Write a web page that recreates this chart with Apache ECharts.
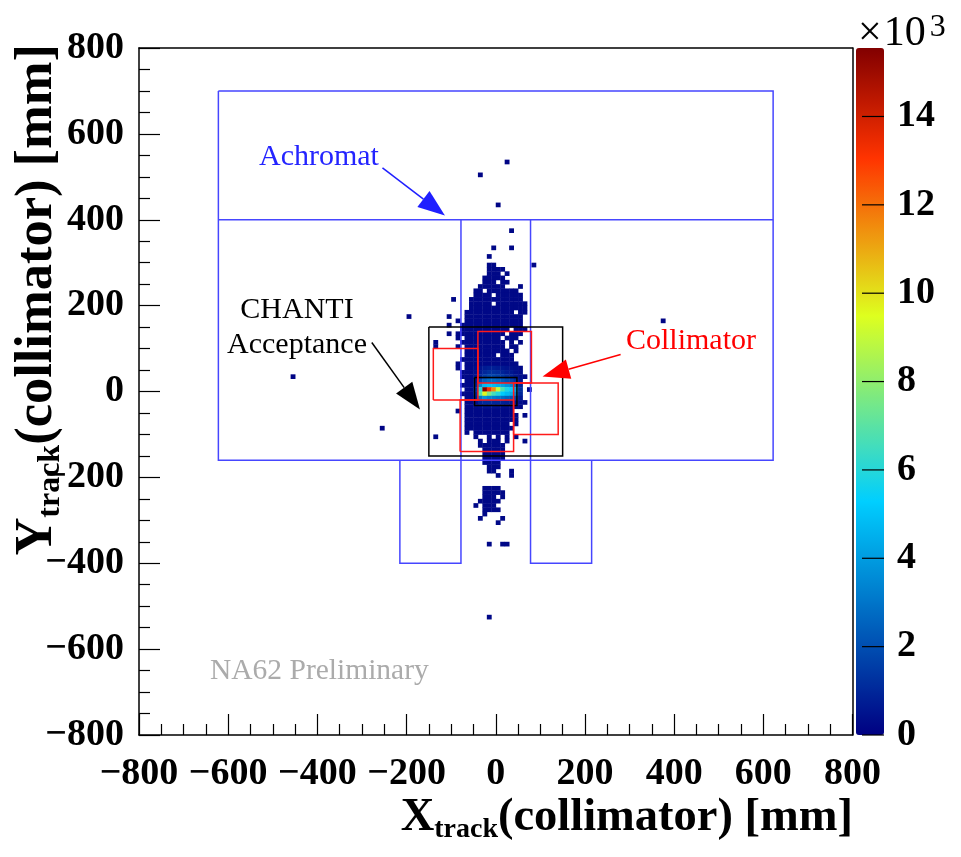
<!DOCTYPE html>
<html><head><meta charset="utf-8">
<script src="https://cdn.jsdelivr.net/npm/echarts@6/dist/echarts.min.js"></script>
<style>html,body{margin:0;padding:0;background:#fff}#c{width:961px;height:857px}</style>
</head><body><div id="c"></div>
<script>
// ---------------- data ----------------
const BIN = 10;                 // mm per histogram bin
const blobX0 = -150;            // x (lower edge) of first column of the map below
const blobCount = 200;          // typical count of a dark-blue cell
// '#' = filled bin, '.' = empty bin ; columns x = -150, -140, ..., 80
const blobRows = [
 [370, "..................#....."],
 [330, "..............#...#....."],
 [310, ".............#.........."],
 [290, ".............##........#"],
 [280, ".............####......."],
 [270, ".............###.#......"],
 [260, "............#####......."],
 [250, "............###.##......"],
 [240, "...........######...#..."],
 [230, "..........##.#######...."],
 [220, "..........####.######..."],
 [210, ".....#...############..."],
 [200, ".........#####.#######.."],
 [190, ".........#############.."],
 [180, "........###########.##.."],
 [170, "....#...#############..."],
 [160, "......#.#############..."],
 [150, "....#..##############..."],
 [140, ".......###########.###.."],
 [130, "....#.###########.###..."],
 [120, "......#.########.###...."],
 [110, ".#.....##########.#.#..."],
 [100, ".#....#.#########.##...."],
 [90,  "........##########.#...."],
 [80,  "........#######.###....."],
 [70,  ".......############....."],
 [60,  "......#.############...."],
 [50,  "......#.#############..."],
 [40,  ".......##############..."],
 [30,  ".......###############.."],
 [20,  "........#############..."],
 [10,  ".......##############..."],
 [0,   "........#############.#."],
 [-10, ".......##############..."],
 [-20, "........#############..."],
 [-30, "........############.#.."],
 [-40, "........###########.#..."],
 [-50, "......#.###########....."],
 [-60, "........############.#.."],
 [-70, "........############...."],
 [-80, "........##########.#...."],
 [-90, "........###########....."],
 [-100,"........#.########......"],
 [-110,".#........#..#.#.#.#...."],
 [-120,"...........#.###.#...#.."],
 [-130,"...........######......."],
 [-140,"............#####......."],
 [-150,"............#####......."],
 [-160,"............#####......."],
 [-170,"............####........"],
 [-180,".............###........"],
 [-190,".............##...#....."],
 [-200,"...............#..#....."],
 [-230,"............####........"],
 [-240,"............#####......."],
 [-250,"............###.#......."],
 [-260,"...........#####........"],
 [-270,"..........#.###........."],
 [-280,"............####........"],
 [-290,"............#..........."],
 [-300,"...........#....#......."],
 [-310,"...............#........"],
 [-360,".............#..##......"],
 [-530,".............#.........."]
];
// isolated bins far from the beam  [x, y, count]
const outliers = [[20,530,100],[-40,500,100],[0,430,100],[-200,170,100],[-460,30,100],[-260,-90,100],[370,160,100]];
// beam core (counts)
const hotX = [-50,-40,-30,-20,-10,0,10,20,30,40,50];
const hotY = [50,40,30,20,10,0,-10,-20,-30,-40];
const hotValues = [
 [300, 500, 700, 800, 800, 700, 600, 500, 400, 300, 200],
 [400, 700,1000,1200,1200,1100, 900, 700, 600, 400, 300],
 [500,1000,1500,1800,1800,1600,1400,1100, 900, 600, 400],
 [600,1800,2500,2800,2800,2600,2300,2000,1700,1200, 500],
 [900,3400,4800,5000,4800,4500,4200,3800,3400,2600, 900],
 [1200,6000,15550,13200,11500,9000,6800,5800,5200,4200,1200],
 [1000,7000,9600,7600,6600,6000,5200,4800,4400,3400,1000],
 [700,3000,3800,3400,3200,3000,2800,2500,2200,1700, 600],
 [400, 900,1100,1100,1000,1000, 900, 800, 700, 500, 300],
 [300, 400, 500, 500, 500, 450, 400, 350, 300, 250, 200]
];
const zMax = 15550;
const zTicks = [0,2000,4000,6000,8000,10000,12000,14000];

// detector outlines (mm)
const achromatOuter = [[-622,700],[622,700],[622,-160],[-622,-160],[-622,700]];
const achromatMid   = [[-622,400],[622,400]];
const achromatLeft  = [[-78,400],[-78,-400],[-215,-400],[-215,-160]];
const achromatRight = [[78,400],[78,-400],[215,-400],[215,-160]];
const chantiOuter = [[-150,150],[150,150],[150,-150],[-150,-150],[-150,150]];
const chantiHole  = [[-47.5,32.5],[47.5,32.5],[47.5,-32.5],[-47.5,-32.5],[-47.5,32.5]];
const jawTop    = [[-40,20],[80,20],[80,140],[-40,140],[-40,20]];
const jawLeft   = [[-140,-20],[-40,-20],[-40,100],[-140,100],[-140,-20]];
const jawBottom = [[-80,-140],[40,-140],[40,-20],[-80,-20],[-80,-140]];
const jawRight  = [[40,-100],[140,-100],[140,20],[40,20],[40,-100]];
// annotation arrows [x1,y1,x2(tip),y2(tip)]
const arrows = [[-254,521,-114,410],[-278,114,-170,-42],[280,86,105,35]];

// ---------------- styles ----------------
const BLUE = '#4646ff', RED = '#ff1a1a', BLACK = '#000';
const arrowColors = ['#1f1fff', '#000000', '#ff0000'];
const SERIF = '"Liberation Serif","Times New Roman",serif';

// ---------------- build cells ----------------
const cellMap = new Map();
blobRows.forEach(([y, row]) => {
  for (let i = 0; i < row.length; i++) if (row[i] === '#') cellMap.set((blobX0 + i*BIN)+','+y, [blobX0 + i*BIN, y, blobCount]);
});
outliers.forEach(([x,y,v]) => cellMap.set(x+','+y, [x,y,v]));
hotY.forEach((y, r) => hotX.forEach((x, c) => cellMap.set(x+','+y, [x, y, hotValues[r][c]])));
const cells = Array.from(cellMap.values());

// ROOT rainbow palette (gradient stops)
const pStops=[0,0.34,0.61,0.84,1], pR=[0,0,0.87,1,0.51], pG=[0,0.81,1,0.2,0], pB=[0.51,1,0.12,0,0];
const palette=[];
for (let i=0;i<101;i++){const t=i/100;let k=0;while(k<pStops.length-2&&t>pStops[k+1])k++;
  const f=(t-pStops[k])/(pStops[k+1]-pStops[k]);
  const c=[pR,pG,pB].map(a=>Math.round(255*(a[k]+f*(a[k+1]-a[k]))));
  palette.push('rgb('+c.join(',')+')');}

const fmt = v => v < 0 ? '\u2212' + (-v) : String(v);
const labelStyle = {fontFamily: SERIF, fontWeight: 'bold', fontSize: 38, color: '#000'};
const titleRich = (size, sub) => ({
  t: {fontFamily: SERIF, fontWeight: 'bold', fontSize: size, lineHeight: size + 6, fill: '#000'},
  s: {fontFamily: SERIF, fontWeight: 'bold', fontSize: sub, lineHeight: sub + 3, verticalAlign: 'bottom', fill: '#000'}
});

const chart = echarts.init(document.getElementById('c'), null, {renderer: 'canvas'});
chart.setOption({
  animation: false,
  backgroundColor: '#fff',
  grid: [
    {left: 139, top: 48, width: 713.5, height: 687},
    {left: 856, top: 48, width: 28, height: 687}
  ],
  xAxis: [
    {gridIndex: 0, type: 'value', min: -800, max: 800, interval: 200, position: 'bottom',
     axisLine: {show: true, onZero: false, lineStyle: {color: '#000', width: 1.5}},
     axisTick: {show: true, inside: true, length: 21, lineStyle: {color: '#000', width: 1.2}},
     minorTick: {show: true, splitNumber: 4, length: 11, lineStyle: {color: '#000', width: 1.2}},
     axisLabel: Object.assign({margin: 20, formatter: fmt}, labelStyle),
     splitLine: {show: false}, minorSplitLine: {show: false}},
    {gridIndex: 0, type: 'value', min: -800, max: 800, position: 'top',
     axisLine: {show: true, onZero: false, lineStyle: {color: '#000', width: 1.5}},
     axisTick: {show: false}, axisLabel: {show: false}, splitLine: {show: false}},
    {gridIndex: 1, type: 'value', min: 0, max: 1, show: false}
  ],
  yAxis: [
    {gridIndex: 0, type: 'value', min: -800, max: 800, interval: 200, position: 'left',
     axisLine: {show: true, onZero: false, lineStyle: {color: '#000', width: 1.5}},
     axisTick: {show: true, inside: true, length: 21, lineStyle: {color: '#000', width: 1.2}},
     minorTick: {show: true, splitNumber: 4, length: 11, lineStyle: {color: '#000', width: 1.2}},
     axisLabel: Object.assign({margin: 15, formatter: fmt}, labelStyle),
     splitLine: {show: false}, minorSplitLine: {show: false}},
    {gridIndex: 0, type: 'value', min: -800, max: 800, position: 'right',
     axisLine: {show: true, onZero: false, lineStyle: {color: '#000', width: 1.5}},
     axisTick: {show: false}, axisLabel: {show: false}, splitLine: {show: false}},
    {gridIndex: 1, type: 'value', min: 0, max: zMax, position: 'right',
     axisLine: {show: false}, axisTick: {show: false},
     axisLabel: Object.assign({margin: 13, customValues: zTicks, formatter: v => String(v/1000)}, labelStyle),
     splitLine: {show: false}}
  ],
  visualMap: [{
    type: 'continuous', min: 0, max: zMax, dimension: 2, seriesIndex: 0,
    inRange: {color: palette}, calculable: false, hoverLink: false,
    left: 856, top: 48, itemWidth: 28, itemHeight: 687, padding: 0, text: null,
    orient: 'vertical', z: 4
  }],
  series: [
    {type: 'custom', xAxisIndex: 0, yAxisIndex: 0, z: 1, data: cells, encode: {x: 0, y: 1},
     renderItem: (params, api) => {
       const p = api.coord([api.value(0), api.value(1) + BIN]);
       const s = api.size([BIN, BIN]);
       return {type: 'rect', shape: {x: p[0], y: p[1], width: s[0] + 0.4, height: s[1] + 0.4},
               style: {fill: api.visual('color')}};
     }},
    {type: 'lines', coordinateSystem: 'cartesian2d', polyline: true, z: 3, silent: true,
     lineStyle: {color: BLUE, width: 1.5, opacity: 1},
     data: [achromatOuter, achromatMid, achromatLeft, achromatRight].map(c => ({coords: c}))},
    {type: 'lines', coordinateSystem: 'cartesian2d', polyline: true, z: 3, silent: true,
     lineStyle: {color: BLACK, width: 1.5, opacity: 1},
     data: [chantiOuter, chantiHole].map(c => ({coords: c}))},
    {type: 'lines', coordinateSystem: 'cartesian2d', polyline: true, z: 3, silent: true,
     lineStyle: {color: RED, width: 1.5, opacity: 1},
     data: [jawTop, jawLeft, jawBottom, jawRight].map(c => ({coords: c}))},
    {type: 'custom', xAxisIndex: 0, yAxisIndex: 0, z: 4, data: arrows, encode: {x: [0,2], y: [1,3]}, silent: true,
     renderItem: (params, api) => {
       const a = api.coord([api.value(0), api.value(1)]);
       const b = api.coord([api.value(2), api.value(3)]);
       const color = arrowColors[params.dataIndex];
       const dx = b[0]-a[0], dy = b[1]-a[1], L = Math.hypot(dx, dy), ux = dx/L, uy = dy/L;
       const hl = 27, hw = 10;
       const bx = b[0]-ux*hl, by = b[1]-uy*hl;
       return {type: 'group', children: [
         {type: 'line', shape: {x1: a[0], y1: a[1], x2: bx, y2: by}, style: {stroke: color, lineWidth: 1.5}},
         {type: 'polygon', shape: {points: [[b[0], b[1]], [bx-uy*hw, by+ux*hw], [bx+uy*hw, by-ux*hw]]}, style: {fill: color}}
       ]};
     }},
    // colour-bar tick marks, drawn inside the bar from its right edge
    {type: 'custom', xAxisIndex: 2, yAxisIndex: 2, z: 10, silent: true,
     data: zTicks.map(v => [1, v]), encode: {x: 0, y: 1},
     renderItem: (params, api) => {
       const p = api.coord([api.value(0), api.value(1)]);
       return {type: 'line', shape: {x1: p[0] - 22, y1: p[1], x2: p[0], y2: p[1]}, style: {stroke: '#000', lineWidth: 1.2}};
     }}
  ],
  graphic: [
    {type: 'text', x: 259, y: 157, style: {text: 'Achromat', fill: '#2424ff', font: '30px ' + SERIF, align: 'left', verticalAlign: 'middle'}},
    {type: 'text', x: 297, y: 310, style: {text: 'CHANTI', fill: '#000', font: '30px ' + SERIF, align: 'center', verticalAlign: 'middle'}},
    {type: 'text', x: 297, y: 345, style: {text: 'Acceptance', fill: '#000', font: '30px ' + SERIF, align: 'center', verticalAlign: 'middle'}},
    {type: 'text', x: 626, y: 341, style: {text: 'Collimator', fill: '#ff0000', font: '30px ' + SERIF, align: 'left', verticalAlign: 'middle'}},
    {type: 'text', x: 210, y: 671, style: {text: 'NA62 Preliminary', fill: '#ababab', font: '29.5px ' + SERIF, align: 'left', verticalAlign: 'middle'}},
    {type: 'text', x: 853, y: 818, style: {
      text: '{t|X}{s|track}{t|(collimator) [mm]}', align: 'right', verticalAlign: 'middle', rich: titleRich(46.5, 28)}},
    {type: 'text', x: 37, y: 44, rotation: Math.PI/2, style: {
      text: '{t|Y}{s|track}{t|(collimator) [mm]}', align: 'right', verticalAlign: 'middle', rich: titleRich(52.5, 32)}},
    {type: 'text', x: 858, y: 34, style: {
      text: '{a|\u00d7}{a|10}{b|3}', align: 'left', verticalAlign: 'middle',
      rich: {a: {fontFamily: SERIF, fontSize: 42, lineHeight: 44, fill: '#000', padding: [0, 2, 0, 0]},
             b: {fontFamily: SERIF, fontSize: 32, lineHeight: 30, verticalAlign: 'top', fill: '#000', padding: [0, 0, 0, 2]}}}}
  ]
});
</script></body></html>
